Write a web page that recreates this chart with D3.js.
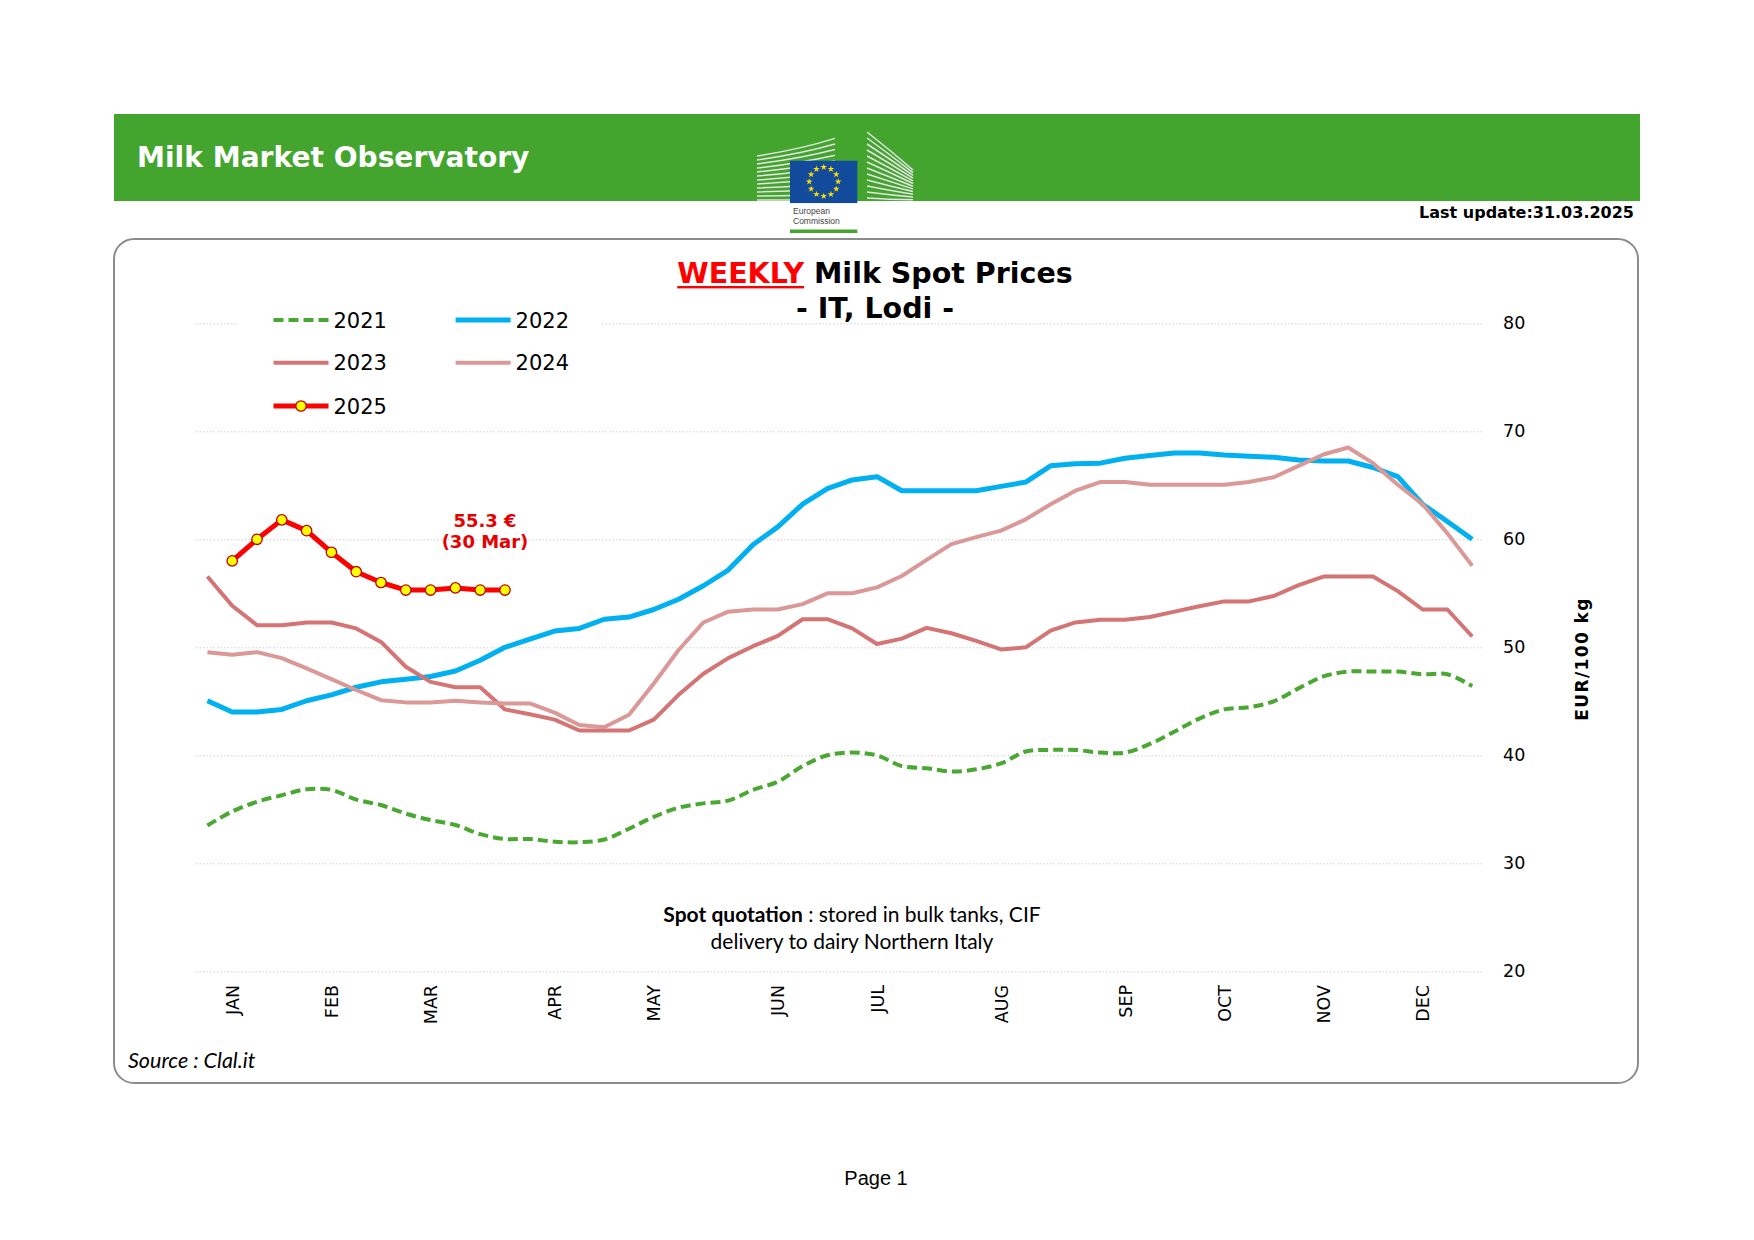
<!DOCTYPE html>
<html>
<head>
<meta charset="utf-8">
<script src="https://cdn.jsdelivr.net/npm/d3@7"></script>
<style>
  body { margin: 0; background: #fff; }
  svg { display: block; }
</style>
</head>
<body>
<svg id="chart" width="1754" height="1240"></svg>
<script>
// week categories and month tick labels
const weeks = d3.range(1, 53);
const monthLabels = ["JAN","FEB","MAR","APR","MAY","JUN","JUL","AUG","SEP","OCT","NOV","DEC"];
const monthWeeks = [2, 6, 10, 15, 19, 24, 28, 33, 38, 42, 46, 50];
const yTicks = [20, 30, 40, 50, 60, 70, 80];

// EUR/100 kg, weekly
const y2021 = [33.5,34.8,35.7,36.3,36.85,36.8,35.9,35.4,34.6,34.0,33.55,32.7,32.25,32.25,32.0,31.95,32.2,33.2,34.3,35.15,35.55,35.8,36.8,37.55,39.0,40.0,40.25,40.0,39.0,38.8,38.5,38.7,39.25,40.35,40.5,40.5,40.25,40.25,41.05,42.2,43.4,44.25,44.45,45.0,46.2,47.3,47.75,47.75,47.75,47.5,47.5,46.4];
const y2022 = [45.05,44.0,44.0,44.25,45.05,45.6,46.3,46.8,47.05,47.3,47.8,48.8,50.0,50.75,51.5,51.75,52.6,52.8,53.5,54.45,55.7,57.15,59.5,61.15,63.25,64.7,65.5,65.8,64.5,64.5,64.5,64.5,64.9,65.3,66.8,67.0,67.05,67.5,67.75,68.0,68.0,67.8,67.7,67.6,67.35,67.25,67.25,66.65,65.8,63.25,61.65,60.0];
const y2023 = [56.55,53.85,52.05,52.05,52.3,52.3,51.75,50.5,48.2,46.8,46.3,46.3,44.25,43.8,43.3,42.3,42.3,42.3,43.3,45.6,47.55,49.0,50.1,51.05,52.6,52.6,51.75,50.3,50.8,51.8,51.3,50.6,49.8,50.0,51.55,52.3,52.55,52.55,52.8,53.3,53.8,54.25,54.25,54.75,55.75,56.55,56.55,56.55,55.2,53.5,53.5,51.0];
const y2024 = [49.55,49.3,49.55,49.0,48.05,47.05,46.05,45.1,44.9,44.9,45.05,44.9,44.8,44.8,43.95,42.8,42.6,43.75,46.65,49.75,52.3,53.3,53.5,53.5,54.0,55.0,55.0,55.55,56.6,58.1,59.55,60.2,60.8,61.85,63.25,64.5,65.3,65.3,65.05,65.05,65.05,65.05,65.3,65.75,66.8,67.85,68.5,67.05,65.05,63.25,60.55,57.55];
const y2025 = [null,58.0,60.0,61.8,60.8,58.8,57.0,56.0,55.3,55.3,55.5,55.3,55.3];

const seriesNames = ["2021", "2022", "2023", "2024", "2025"];
const seriesValues = [y2021, y2022, y2023, y2024, y2025];
const seriesColors = ["#4aa832", "#00b0f0", "#d47474", "#da9896", "#ff0000"];
const seriesWidths = [4, 5, 4, 4, 5];

const svg = d3.select("#chart");
const FONT = "'DejaVu Sans', Verdana, sans-serif";

// ---- header banner ----
svg.append("rect")
  .attr("x", 114).attr("y", 114).attr("width", 1526).attr("height", 87)
  .attr("fill", "#43a52e");

svg.append("text")
  .attr("x", 137).attr("y", 167)
  .attr("font-family", FONT).attr("font-weight", "bold").attr("font-size", 28.1)
  .attr("fill", "#fff")
  .text("Milk Market Observatory");

// EC logo
const logo = svg.append("g");
for (let k = 0; k < 12; k++) {
  logo.append("path")
    .attr("d", `M757,${200 - k * 4} Q800,${200 - k * 4.6} 835,${200 - k * 5.6}`)
    .attr("fill", "none").attr("stroke", "#e4e4e4").attr("stroke-width", 1.5);
  logo.append("path")
    .attr("d", `M867,${132 + k * 6} Q890,${150 + k * 4.5} 913,${170 + k * 2.7}`)
    .attr("fill", "none").attr("stroke", "#e4e4e4").attr("stroke-width", 1.5);
}
logo.append("rect").attr("x", 790).attr("y", 160.7).attr("width", 67.3).attr("height", 42.6)
  .attr("fill", "#124a9c");
logo.append("rect").attr("x", 790).attr("y", 203.3).attr("width", 67.3).attr("height", 26)
  .attr("fill", "#fff");
logo.append("rect").attr("x", 790).attr("y", 229.5).attr("width", 67.3).attr("height", 3.5)
  .attr("fill", "#43a52e");
const star = d3.symbol().type(d3.symbolStar).size(14);
d3.range(12).forEach(i => {
  const a = i / 12 * 2 * Math.PI;
  logo.append("path").attr("d", star)
    .attr("transform", `translate(${823.7 + 14.5 * Math.sin(a)},${181.7 - 14.5 * Math.cos(a)})`)
    .attr("fill", "#ffdd00");
});
logo.append("text").attr("x", 793).attr("y", 213.5)
  .attr("font-family", "'Liberation Sans', Arial, sans-serif").attr("font-size", 8.5).attr("fill", "#444")
  .text("European");
logo.append("text").attr("x", 793).attr("y", 223.5)
  .attr("font-family", "'Liberation Sans', Arial, sans-serif").attr("font-size", 8.5).attr("fill", "#444")
  .text("Commission");

svg.append("text")
  .attr("x", 1634).attr("y", 218).attr("text-anchor", "end")
  .attr("font-family", FONT).attr("font-weight", "bold").attr("font-size", 16)
  .text("Last update:31.03.2025");

// ---- chart frame ----
svg.append("rect")
  .attr("x", 114).attr("y", 239).attr("width", 1524).attr("height", 844).attr("rx", 20)
  .attr("fill", "#fff").attr("stroke", "#8c8c8c").attr("stroke-width", 2);

// ---- scales ----
const x = d3.scalePoint().domain(weeks).range([195, 1484.6]).padding(0.5);
const y = d3.scaleLinear().domain([20, 80]).range([971.3, 323.3]);

// gridlines
const grid = svg.append("g")
  .attr("transform", "translate(196,0)")
  .call(d3.axisRight(y).tickValues(yTicks).tickSize(1287).tickFormat(""));
grid.select(".domain").remove();
grid.selectAll("line").attr("stroke", "#cfcfcf").attr("stroke-dasharray", "1.5,2");

// y axis labels (right)
const yAxis = svg.append("g")
  .attr("transform", "translate(1483,0)")
  .call(d3.axisRight(y).tickValues(yTicks).tickSize(0).tickPadding(20));
yAxis.select(".domain").remove();
yAxis.selectAll("text")
  .attr("font-family", FONT).attr("font-size", 17.5).attr("fill", "#000");

svg.append("text")
  .attr("transform", "translate(1588,659) rotate(-90)")
  .attr("text-anchor", "middle")
  .attr("font-family", FONT).attr("font-weight", "bold").attr("font-size", 17)
  .attr("letter-spacing", 1.4)
  .text("EUR/100 kg");

// x axis month labels
const xAxis = svg.append("g")
  .attr("transform", "translate(0,971.3)")
  .call(d3.axisBottom(x).tickValues(monthWeeks)
    .tickFormat(w => monthLabels[monthWeeks.indexOf(w)]).tickSize(0));
xAxis.select(".domain").remove();
xAxis.selectAll("text")
  .attr("transform", "rotate(-90)")
  .attr("x", -13.7).attr("y", 0).attr("dy", "0.35em")
  .style("text-anchor", "end")
  .attr("font-family", FONT).attr("font-size", 17.5).attr("fill", "#000");

// ---- series ----
seriesValues.forEach((vals, s) => {
  const line = d3.line()
    .defined(d => d != null)
    .x((d, i) => x(weeks[i]))
    .y(d => y(d))
    .curve(s === 0 ? d3.curveCatmullRom.alpha(0.5) : d3.curveLinear);
  svg.append("path")
    .datum(vals)
    .attr("d", line)
    .attr("fill", "none")
    .attr("stroke", seriesColors[s])
    .attr("stroke-width", seriesWidths[s])
    .attr("stroke-linejoin", "round")
    .attr("stroke-dasharray", s === 0 ? "10,5" : null);
});

// 2025 markers
const pts2025 = y2025.map((v, i) => ({ w: weeks[i], v })).filter(d => d.v != null);
svg.append("g").selectAll("circle")
  .data(pts2025)
  .join("circle")
  .attr("cx", d => x(d.w)).attr("cy", d => y(d.v)).attr("r", 5.2)
  .attr("fill", "#ffff00").attr("stroke", "#c00000").attr("stroke-width", 1.3);

// last value label
const last = pts2025[pts2025.length - 1];
const lab = svg.append("text")
  .attr("text-anchor", "middle")
  .attr("font-family", FONT).attr("font-weight", "bold").attr("font-size", 18)
  .attr("fill", "#e60000");
lab.append("tspan").attr("x", x(last.w) - 20).attr("y", y(last.v) - 63.3).text(`${last.v} €`);
lab.append("tspan").attr("x", x(last.w) - 20).attr("y", y(last.v) - 41.7).text("(30 Mar)");

// ---- legend ----
svg.append("rect")
  .attr("x", 238).attr("y", 296).attr("width", 364).attr("height", 124).attr("fill", "#fff");
const legendPos = [[273.5, 320], [455.6, 320], [273.5, 362.7], [455.6, 362.7], [273.5, 406]];
seriesNames.forEach((name, s) => {
  const [lx, ly] = legendPos[s];
  const g = svg.append("g").attr("transform", `translate(${lx},${ly})`);
  g.append("line")
    .attr("x1", 0).attr("x2", 55).attr("y1", 0).attr("y2", 0)
    .attr("stroke", seriesColors[s]).attr("stroke-width", seriesWidths[s])
    .attr("stroke-dasharray", s === 0 ? "10,5" : null);
  if (s === 4) {
    g.append("circle").attr("cx", 27.5).attr("cy", 0).attr("r", 5.2)
      .attr("fill", "#ffff00").attr("stroke", "#c00000").attr("stroke-width", 1.3);
  }
  g.append("text")
    .attr("x", 60).attr("y", 0).attr("dy", "0.36em")
    .attr("font-family", FONT).attr("font-size", 21).attr("fill", "#000")
    .text(name);
});

// ---- title ----
const title = svg.append("text")
  .attr("x", 875).attr("y", 283).attr("text-anchor", "middle")
  .attr("font-family", FONT).attr("font-weight", "bold").attr("font-size", 28.5);
title.append("tspan").attr("fill", "#ff0000").text("WEEKLY");
title.append("tspan").attr("fill", "#000").text(" Milk Spot Prices");
const tNode = title.node();
const ux = tNode.getStartPositionOfChar(0).x;
const uw = tNode.getSubStringLength(0, 6);
svg.append("rect")
  .attr("x", ux).attr("y", 286).attr("width", uw).attr("height", 2.4).attr("fill", "#ff0000");
svg.append("text")
  .attr("x", 875).attr("y", 318).attr("text-anchor", "middle")
  .attr("font-family", FONT).attr("font-weight", "bold").attr("font-size", 28.5)
  .text("- IT, Lodi -");

// ---- notes ----
const note = svg.append("text")
  .attr("text-anchor", "middle")
  .attr("font-family", "Lato, 'Open Sans', sans-serif").attr("font-size", 21).attr("fill", "#000");
const n1 = note.append("tspan").attr("x", 852).attr("y", 922);
n1.append("tspan").attr("font-weight", "bold").text("Spot quotation");
n1.append("tspan").text(" : stored in bulk tanks, CIF");
note.append("tspan").attr("x", 852).attr("y", 948.5).text("delivery to dairy Northern Italy");

svg.append("text")
  .attr("x", 128).attr("y", 1068)
  .attr("font-family", "Lato, 'Open Sans', sans-serif").attr("font-style", "italic").attr("font-size", 21.5)
  .text("Source : Clal.it");

svg.append("text")
  .attr("x", 876).attr("y", 1185).attr("text-anchor", "middle")
  .attr("font-family", "'Liberation Sans', Arial, sans-serif").attr("font-size", 20)
  .text("Page 1");
</script>
</body>
</html>
